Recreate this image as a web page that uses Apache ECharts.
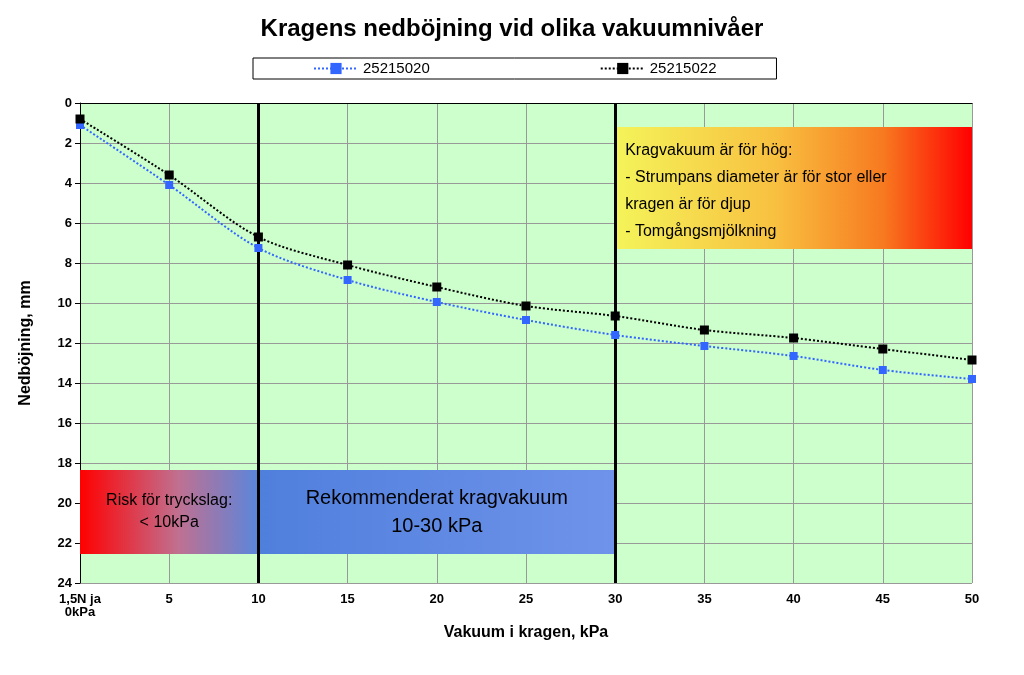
<!DOCTYPE html>
<html><head><meta charset="utf-8">
<script src="https://cdn.jsdelivr.net/npm/echarts@6/dist/echarts.min.js"></script>
<style>html,body{margin:0;background:#fff}#c{width:1024px;height:675px}</style>
</head><body><div id="c"></div>
<script>
const vacuum = [0, 5, 10, 15, 20, 25, 30, 35, 40, 45, 50];
const s20 = [1.1, 4.1, 7.25, 8.85, 9.95, 10.85, 11.6, 12.15, 12.65, 13.35, 13.8];
const s22 = [0.8, 3.6, 6.7, 8.1, 9.2, 10.15, 10.65, 11.35, 11.75, 12.3, 12.85];
const names = ['25215020', '25215022'];

const chart = echarts.init(document.getElementById('c'));
const font = 'Liberation Sans, Arial, sans-serif';
const grad = (stops) => ({ type: 'linear', x: 0, y: 0, x2: 1, y2: 0, colorStops: stops });

chart.setOption({
  animation: false,
  textStyle: { fontFamily: font },
  title: { text: 'Kragens nedböjning vid olika vakuumnivåer', left: 'center', top: 12,
    textStyle: { fontSize: 24, fontWeight: 'bold', color: '#000', fontFamily: font } },
  legend: { top: 58, left: 253, borderColor: '#000', borderWidth: 1, itemGap: 170,
    padding: [3, 60, 3, 60], itemWidth: 44, textStyle: { fontSize: 15, color: '#000' },
    data: names },
  grid: { left: 80, right: 52, top: 103, bottom: 92, show: true, backgroundColor: '#ccffcc', borderWidth: 0 },
  xAxis: { type: 'value', min: 0, max: 50, interval: 5,
    name: 'Vakuum i kragen, kPa', nameLocation: 'middle', nameGap: 42,
    nameTextStyle: { fontSize: 16, fontWeight: 'bold', color: '#000' },
    axisLine: { lineStyle: { color: '#000' } }, axisTick: { show: false },
    axisLabel: { fontSize: 13, fontWeight: 'bold', color: '#000', margin: 10,
      formatter: v => v === 0 ? '1,5N ja\n0kPa' : String(v) },
    splitLine: { lineStyle: { color: '#999' } } },
  yAxis: { type: 'value', inverse: true, min: 0, max: 24, interval: 2,
    name: 'Nedböjning, mm', nameLocation: 'middle', nameGap: 46,
    nameTextStyle: { fontSize: 16, fontWeight: 'bold', color: '#000' },
    axisLine: { show: true, lineStyle: { color: '#000' } }, axisTick: { show: true, lineStyle: { color: '#000' } },
    axisLabel: { fontSize: 13, fontWeight: 'bold', color: '#000' },
    splitLine: { lineStyle: { color: '#999' } } },
  series: [
    { name: names[0], type: 'line', data: vacuum.map((x, i) => [x, s20[i]]), smooth: 0.3,
      symbol: 'rect', symbolSize: 8, itemStyle: { color: '#3366ff' },
      lineStyle: { color: '#3366ff', type: 'dotted', width: 2 }, z: 5,
      markArea: { silent: true, data: [
        [{ coord: [30, 1.2], itemStyle: { color: grad([{ offset: 0, color: '#f4f45a' }, { offset: 0.45, color: '#f8c040' }, { offset: 0.75, color: '#f77a20' }, { offset: 1, color: '#ff0000' }]) },
           label: { show: true, position: 'insideTopLeft', distance: 10, color: '#000', fontSize: 16, lineHeight: 27,
             formatter: 'Kragvakuum är för hög:\n- Strumpans diameter är för stor eller\nkragen är för djup\n- Tomgångsmjölkning' } },
         { coord: [50, 7.3] }],
        [{ coord: [0, 18.35], itemStyle: { color: grad([{ offset: 0, color: '#ff0000' }, { offset: 0.55, color: '#c07090' }, { offset: 1, color: '#5a86dc' }]) },
           label: { show: true, position: 'inside', color: '#000', fontSize: 16, lineHeight: 22,
             formatter: 'Risk för tryckslag:\n< 10kPa' } },
         { coord: [10, 22.55] }],
        [{ coord: [10, 18.35], itemStyle: { color: grad([{ offset: 0, color: '#4f7fdc' }, { offset: 1, color: '#6f93ea' }]) },
           label: { show: true, position: 'inside', color: '#000', fontSize: 20, lineHeight: 28,
             formatter: 'Rekommenderat kragvakuum\n10-30 kPa' } },
         { coord: [30, 22.55] }]
      ] },
      markLine: { silent: true, symbol: 'none', label: { show: false },
        lineStyle: { color: '#000', type: 'solid', width: 3 },
        data: [{ xAxis: 10 }, { xAxis: 30 }] } },
    { name: names[1], type: 'line', data: vacuum.map((x, i) => [x, s22[i]]), smooth: 0.3,
      symbol: 'rect', symbolSize: 9, itemStyle: { color: '#000' },
      lineStyle: { color: '#000', type: 'dotted', width: 2 }, z: 6 }
  ]
});
</script></body></html>
